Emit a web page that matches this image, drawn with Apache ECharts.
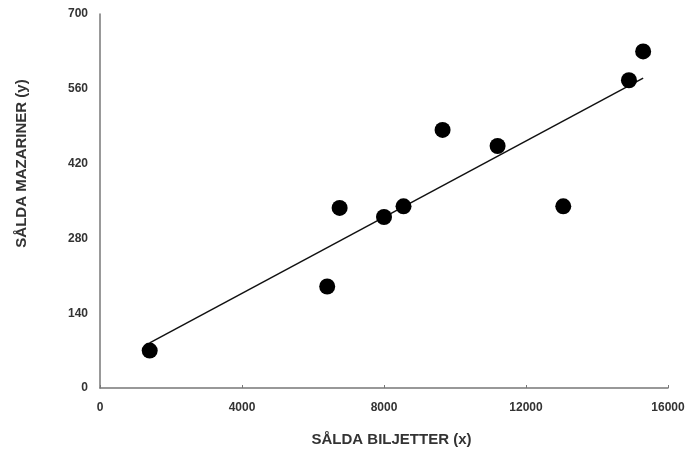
<!DOCTYPE html>
<html>
<head>
<meta charset="utf-8">
<script src="https://cdn.jsdelivr.net/npm/echarts@6/dist/echarts.min.js"></script>
<style>
  html, body { margin: 0; padding: 0; background: #fff; }
  #chart { width: 689px; height: 453px; }
</style>
</head>
<body>
<div id="chart"></div>
<script>
// sold tickets (x) and sold mazariner (y)
const biljetter = [1400, 6400, 6750, 8000, 8550, 9650, 11200, 13050, 14900, 15300]
const mazariner = [70, 190, 337, 320, 340, 483, 453, 340, 576, 630]
const xTicks = [0, 4000, 8000, 12000, 16000]
const yTicks = [0, 140, 280, 420, 560, 700]

// least squares fit for the trend line
function fit(xs, ys) {
  const n = xs.length
  const mx = xs.reduce((a, b) => a + b, 0) / n
  const my = ys.reduce((a, b) => a + b, 0) / n
  let sxy = 0
  let sxx = 0
  for (let i = 0; i < n; i++) {
    sxy += (xs[i] - mx) * (ys[i] - my)
    sxx += (xs[i] - mx) * (xs[i] - mx)
  }
  const k = sxy / sxx
  return { k: k, m: my - k * mx }
}

const reg = fit(biljetter, mazariner)
const xMin = Math.min(...biljetter)
const xMax = Math.max(...biljetter)
const trend = [[xMin, reg.m + reg.k * xMin], [xMax, reg.m + reg.k * xMax]]

const labelStyle = {
  color: '#333',
  fontFamily: 'Liberation Sans, Arial, sans-serif',
  fontSize: 12,
  fontWeight: 'bold'
}

const chart = echarts.init(document.getElementById('chart'))
chart.setOption({
  animation: false,
  grid: {
    left: 100,
    right: 21,
    top: 14,
    bottom: 65
  },
  xAxis: {
    type: 'value',
    min: xTicks[0],
    max: xTicks[xTicks.length - 1],
    interval: xTicks[1] - xTicks[0],
    name: 'SÅLDA BILJETTER (x)',
    nameLocation: 'middle',
    nameGap: 44,
    nameTextStyle: Object.assign({}, labelStyle, { fontSize: 15, padding: [0, 0, 0, 15] }),
    axisLine: { lineStyle: { color: '#777', width: 1.5 } },
    axisTick: { show: true, inside: true, length: 3, lineStyle: { color: '#777' } },
    axisLabel: Object.assign({ margin: 14, formatter: v => String(v) }, labelStyle),
    splitLine: { show: false }
  },
  yAxis: {
    type: 'value',
    min: yTicks[0],
    max: yTicks[yTicks.length - 1],
    interval: yTicks[1] - yTicks[0],
    name: 'SÅLDA MAZARINER (y)',
    nameLocation: 'middle',
    nameRotate: 90,
    nameGap: 71,
    nameTextStyle: Object.assign({}, labelStyle, { fontSize: 15, padding: [0, 0, 0, 75] }),
    axisLine: { show: true, lineStyle: { color: '#777', width: 1.5 } },
    axisTick: { show: false },
    axisLabel: Object.assign({ margin: 12, formatter: v => String(v) }, labelStyle),
    splitLine: { show: false }
  },
  series: [{
    type: 'line',
    data: trend,
    symbol: 'none',
    silent: true,
    lineStyle: { color: '#111', width: 1.5 },
    z: 1
  }, {
    type: 'scatter',
    data: biljetter.map((x, i) => [x, mazariner[i]]),
    symbol: 'circle',
    symbolSize: 16,
    itemStyle: { color: '#000', opacity: 1 },
    z: 2
  }]
})
</script>
</body>
</html>
